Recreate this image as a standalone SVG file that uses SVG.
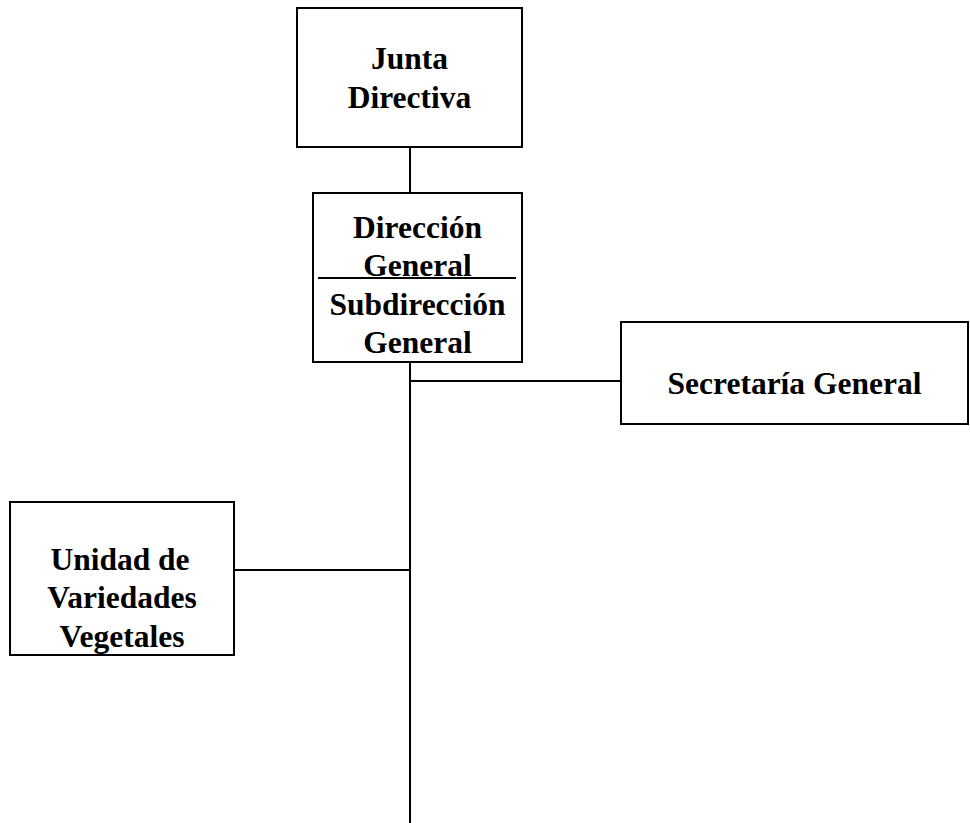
<svg xmlns="http://www.w3.org/2000/svg" width="970" height="823" viewBox="0 0 970 823">
  <style>
    .box { fill: #ffffff; stroke: #000000; stroke-width: 2; }
    .wire { fill: none; stroke: #000000; stroke-width: 2; }
    .label { font-family: "Liberation Serif", "Times New Roman", serif; font-weight: bold; font-size: 31.5px; fill: #000000; text-anchor: middle; }
  </style>
  <rect width="970" height="823" fill="#ffffff"/>

  <!-- connectors -->
  <g id="connectors">
    <line class="wire" x1="410" y1="147" x2="410" y2="193"/>
    <line class="wire" x1="410" y1="362" x2="410" y2="823"/>
    <line class="wire" x1="410" y1="381" x2="621" y2="381"/>
    <line class="wire" x1="234" y1="570" x2="410" y2="570"/>
  </g>

  <g id="junta-directiva">
    <rect class="box" x="297" y="8" width="225" height="139"/>
    <text class="label" x="409.5" y="69">Junta</text>
    <text class="label" x="409.5" y="108">Directiva</text>
  </g>

  <g id="direccion-general">
    <rect class="box" x="313" y="193" width="209" height="169"/>
    <text class="label" x="417.5" y="238">Dirección</text>
    <text class="label" x="417.5" y="276">General</text>
    <line class="wire" x1="318" y1="278" x2="516" y2="278"/>
    <text class="label" x="417.5" y="315">Subdirección</text>
    <text class="label" x="417.5" y="353">General</text>
  </g>

  <g id="secretaria-general">
    <rect class="box" x="621" y="322" width="347" height="102"/>
    <text class="label" x="794.5" y="394">Secretaría General</text>
  </g>

  <g id="unidad-variedades">
    <rect class="box" x="10" y="502" width="224" height="153"/>
    <text class="label" x="120" y="570">Unidad de</text>
    <text class="label" x="122" y="608">Variedades</text>
    <text class="label" x="122" y="647">Vegetales</text>
  </g>
</svg>
